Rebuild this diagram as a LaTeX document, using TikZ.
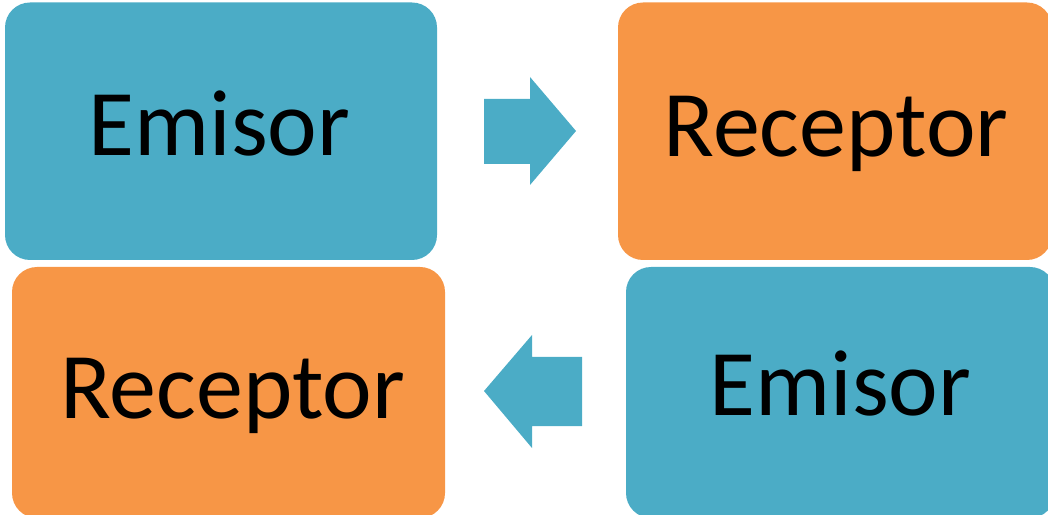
\documentclass[tikz,border=0pt]{standalone}
\usepackage{fontspec}
\setmainfont{Carlito}
\definecolor{boxblue}{HTML}{4BACC6}
\definecolor{boxorange}{HTML}{F79646}
\tikzset{
  card/.style={rounded corners=25pt, inner sep=0pt, draw=none},
  bluecard/.style={card, fill=boxblue},
  orangecard/.style={card, fill=boxorange},
  word/.style={anchor=base, inner sep=0pt, font=\fontsize{94}{100}\selectfont, text=black},
  bigarrow/.style={fill=boxblue, draw=none}
}
\begin{document}
\begin{tikzpicture}[x=1pt,y=1pt]
\useasboundingbox (0,0) rectangle (1048,514);
\clip (0,0) rectangle (1048,514);
% boxes
\path[bluecard] (5,254) rectangle (437,511.5);
\path[orangecard] (618,254) rectangle (1052,511.5);
\path[orangecard] (12,-4) rectangle (445,247);
\path[bluecard] (626,-4) rectangle (1055,247);
% texts
\node[word] (ta) at (219.5,358) {Emisor};
\node[word] (tb) at (836,357) {Receptor};
\node[word] (tc) at (232.5,96) {Receptor};
\node[word] (td) at (840.5,99) {Emisor};
% arrows
\path[bigarrow] (484,415) -- (530,415) -- (530,437) -- (576,383) -- (530,329) -- (530,350) -- (484,350) -- cycle;
\path[bigarrow] (484,123) -- (532,179) -- (532,157) -- (582,157) -- (582,88) -- (532,88) -- (532,66) -- cycle;
\end{tikzpicture}
\end{document}
